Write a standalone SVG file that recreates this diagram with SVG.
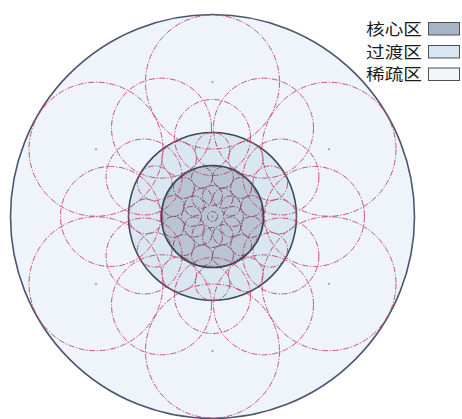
<svg xmlns="http://www.w3.org/2000/svg" width="462" height="419" viewBox="0 0 462 419">
<style>
.zone{stroke-width:1.6}
.c{fill:none;stroke:#c4466c;stroke-width:1;stroke-dasharray:6 1.6 1.4 1.6;stroke-opacity:0.9}
.k{stroke:#8c3a66}
.dot{fill:#8a8c98}
.lbl{font-family:"Noto Sans CJK SC","Liberation Serif",serif;font-size:16px;fill:#1a1a1a}
.sw{stroke:#4a4f5c;stroke-width:1}
</style>
<rect width="462" height="419" fill="#ffffff"/>
<g id="sparse-zone"><circle class="zone" cx="212.5" cy="216.5" r="202" fill="#eef4fa" stroke="#4d5670"/></g>
<g id="transition-zone"><circle class="zone" cx="212.5" cy="216.5" r="84" fill="#d9e7f1" stroke="#3f4b5e"/></g>
<g id="core-zone-base"><circle cx="212.5" cy="216.5" r="51" fill="#c3cedb"/></g>
<g id="ring-a">
<circle class="c" cx="212.5" cy="82" r="67"/>
<circle class="c" cx="329" cy="149.25" r="67"/>
<circle class="c" cx="96" cy="149.25" r="67"/>
<circle class="c" cx="96" cy="283.75" r="67"/>
<circle class="c" cx="329" cy="283.75" r="67"/>
<circle class="c" cx="212.5" cy="351" r="67"/>
</g>
<g id="ring-b">
<circle class="c" cx="314.5" cy="216.5" r="50"/>
<circle class="c" cx="263.5" cy="128.17" r="50"/>
<circle class="c" cx="161.5" cy="128.17" r="50"/>
<circle class="c" cx="110.5" cy="216.5" r="50"/>
<circle class="c" cx="161.5" cy="304.83" r="50"/>
<circle class="c" cx="263.5" cy="304.83" r="50"/>
</g>
<g id="ring-c">
<circle class="c" cx="212.5" cy="137.5" r="38"/>
<circle class="c" cx="280.92" cy="177" r="38"/>
<circle class="c" cx="144.08" cy="177" r="38"/>
<circle class="c" cx="144.08" cy="256" r="38"/>
<circle class="c" cx="280.92" cy="256" r="38"/>
<circle class="c" cx="212.5" cy="295.5" r="38"/>
</g>
<g id="ring-t">
<circle class="c" cx="279.2" cy="216.5" r="17.3"/>
<circle class="c" cx="270.26" cy="183.15" r="17.3"/>
<circle class="c" cx="245.85" cy="158.74" r="17.3"/>
<circle class="c" cx="212.5" cy="149.8" r="17.3"/>
<circle class="c" cx="179.15" cy="158.74" r="17.3"/>
<circle class="c" cx="154.74" cy="183.15" r="17.3"/>
<circle class="c" cx="145.8" cy="216.5" r="17.3"/>
<circle class="c" cx="154.74" cy="249.85" r="17.3"/>
<circle class="c" cx="179.15" cy="274.26" r="17.3"/>
<circle class="c" cx="212.5" cy="283.2" r="17.3"/>
<circle class="c" cx="245.85" cy="274.26" r="17.3"/>
<circle class="c" cx="270.26" cy="249.85" r="17.3"/>
</g>
<g id="ring-k1">
<circle class="c k" cx="251.62" cy="206.02" r="10.5"/>
<circle class="c k" cx="241.14" cy="187.86" r="10.5"/>
<circle class="c k" cx="222.98" cy="177.38" r="10.5"/>
<circle class="c k" cx="202.02" cy="177.38" r="10.5"/>
<circle class="c k" cx="183.86" cy="187.86" r="10.5"/>
<circle class="c k" cx="173.38" cy="206.02" r="10.5"/>
<circle class="c k" cx="173.38" cy="226.98" r="10.5"/>
<circle class="c k" cx="183.86" cy="245.14" r="10.5"/>
<circle class="c k" cx="202.02" cy="255.62" r="10.5"/>
<circle class="c k" cx="222.98" cy="255.62" r="10.5"/>
<circle class="c k" cx="241.14" cy="245.14" r="10.5"/>
<circle class="c k" cx="251.62" cy="226.98" r="10.5"/>
</g>
<g id="ring-k2">
<circle class="c k" cx="233.5" cy="216.5" r="10"/>
<circle class="c k" cx="230.69" cy="206" r="10"/>
<circle class="c k" cx="223" cy="198.31" r="10"/>
<circle class="c k" cx="212.5" cy="195.5" r="10"/>
<circle class="c k" cx="202" cy="198.31" r="10"/>
<circle class="c k" cx="194.31" cy="206" r="10"/>
<circle class="c k" cx="191.5" cy="216.5" r="10"/>
<circle class="c k" cx="194.31" cy="227" r="10"/>
<circle class="c k" cx="202" cy="234.69" r="10"/>
<circle class="c k" cx="212.5" cy="237.5" r="10"/>
<circle class="c k" cx="223" cy="234.69" r="10"/>
<circle class="c k" cx="230.69" cy="227" r="10"/>
<circle class="c k" cx="212.5" cy="216.5" r="5"/>
</g>
<g id="core-zone"><circle cx="212.5" cy="216.5" r="51" fill="#6a7b90" fill-opacity="0.12" stroke="#3a4455" stroke-width="1.6"/></g>
<g id="centers">
<circle class="dot" cx="212.5" cy="82" r="0.9"/>
<circle class="dot" cx="329" cy="149.25" r="0.9"/>
<circle class="dot" cx="96" cy="149.25" r="0.9"/>
<circle class="dot" cx="96" cy="283.75" r="0.9"/>
<circle class="dot" cx="329" cy="283.75" r="0.9"/>
<circle class="dot" cx="212.5" cy="351" r="0.9"/>
<circle class="dot" cx="212.5" cy="216.5" r="0.9"/>
</g>
<g id="legend">
<text class="lbl" x="366" y="35" textLength="56" lengthAdjust="spacingAndGlyphs">核心区</text>
<rect class="sw" x="428.5" y="22.5" width="31" height="12.5" fill="#a7b4c3"/>
<text class="lbl" x="366" y="57.5" textLength="56" lengthAdjust="spacingAndGlyphs">过渡区</text>
<rect class="sw" x="428.5" y="45.5" width="31" height="12.5" fill="#d8e6f2"/>
<text class="lbl" x="366" y="80" textLength="56" lengthAdjust="spacingAndGlyphs">稀疏区</text>
<rect class="sw" x="428.5" y="68" width="31" height="12.5" fill="#f3f6f9"/>
</g>
</svg>
